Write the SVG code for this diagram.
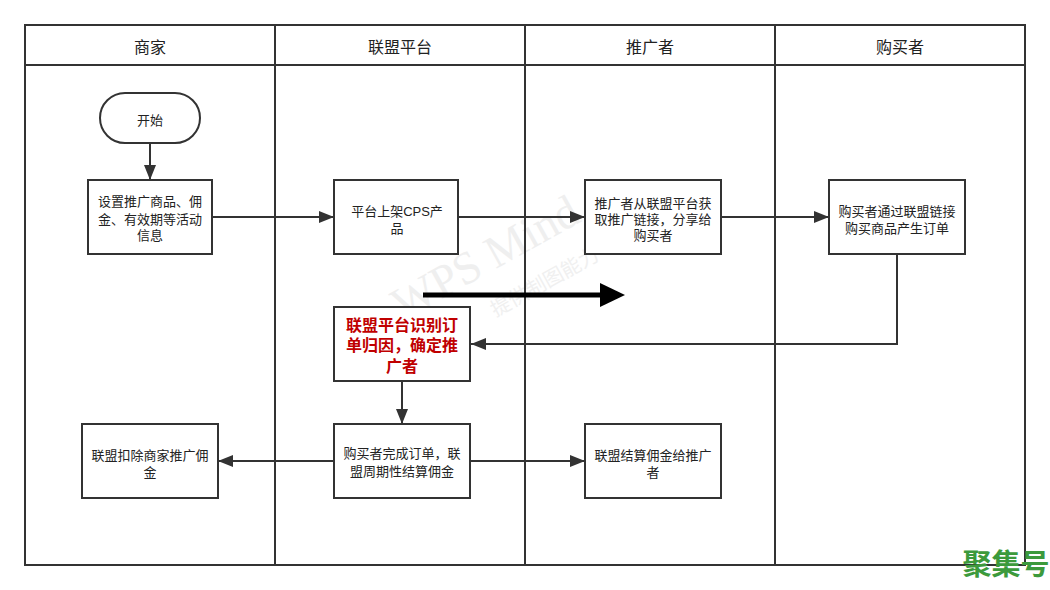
<svg xmlns="http://www.w3.org/2000/svg" width="1050" height="590" viewBox="0 0 1050 590">
<style>
text{font-family:"Liberation Sans","Noto Sans CJK SC",sans-serif;fill:#222;text-anchor:middle}
.h{font-size:16px}.t{font-size:13px}
.r{font-size:16px;fill:#c00000;font-weight:bold}
.b{fill:#fff;stroke:#333;stroke-width:2}
.l{fill:none;stroke:#333;stroke-width:2}
.c{fill:none;stroke:#333;stroke-width:2;marker-end:url(#a)}
</style>
<defs><marker id="a" markerUnits="userSpaceOnUse" markerWidth="16" markerHeight="12" refX="15" refY="6" orient="auto"><path d="M0 0L15 6L0 12z" fill="#333"/></marker></defs>
<rect width="1050" height="590" fill="#fff"/>
<g id="watermark" transform="rotate(-29 490 270)"><text x="492" y="272" style="font-family:'Liberation Serif',serif;font-size:46px;fill:#efefef">WPS Mind</text><text x="532" y="314" style="font-size:20px;fill:#f0f0f0">提供制图能力</text></g>
<g id="lanes"><rect class="l" x="25" y="25" width="1000" height="540"/><path class="l" d="M25 65H1025M275 25V565M525 25V565M775 25V565"/>
<text class="h" x="150" y="53">商家</text><text class="h" x="400" y="53">联盟平台</text><text class="h" x="650" y="53">推广者</text><text class="h" x="900" y="53">购买者</text></g>
<g id="connectors">
<path class="c" d="M150 143V180"/><path class="c" d="M212 217H334"/><path class="c" d="M458 217H585"/><path class="c" d="M721 217H829"/><path class="c" d="M897 254V344H471"/><path class="c" d="M402 381V424"/><path class="c" d="M334 461H218"/><path class="c" d="M471 461H585"/>
<path d="M423 295H602" fill="none" stroke="#000" stroke-width="5"/><path d="M600 283L625 295L600 307z" fill="#000"/>
</g>
<g id="start"><rect class="b" x="100" y="93" width="100" height="50" rx="25"/><text class="t" x="150" y="125">开始</text></g>
<g id="n1"><rect class="b" x="88" y="180" width="124" height="74"/><text class="t" x="150" y="206">设置推广商品、佣</text><text class="t" x="150" y="224">金、有效期等活动</text><text class="t" x="150" y="240">信息</text></g>
<g id="n2"><rect class="b" x="334" y="180" width="124" height="74"/><text class="t" x="397" y="216">平台上架CPS产</text><text class="t" x="397" y="233">品</text></g>
<g id="n3"><rect class="b" x="585" y="180" width="136" height="74"/><text class="t" x="653" y="208">推广者从联盟平台获</text><text class="t" x="653" y="224">取推广链接，分享给</text><text class="t" x="653" y="240">购买者</text></g>
<g id="n4"><rect class="b" x="829" y="180" width="136" height="74"/><text class="t" x="897" y="216">购买者通过联盟链接</text><text class="t" x="897" y="233">购买商品产生订单</text></g>
<g id="n5"><rect class="b" x="334" y="307" width="136" height="74"/><text class="r" x="402" y="331">联盟平台识别订</text><text class="r" x="402" y="351">单归因，确定推</text><text class="r" x="402" y="372">广者</text></g>
<g id="n6"><rect class="b" x="334" y="424" width="136" height="74"/><text class="t" x="402" y="458">购买者完成订单，联</text><text class="t" x="402" y="476">盟周期性结算佣金</text></g>
<g id="n7"><rect class="b" x="82" y="424" width="136" height="74"/><text class="t" x="150" y="460">联盟扣除商家推广佣</text><text class="t" x="150" y="477">金</text></g>
<g id="n8"><rect class="b" x="585" y="424" width="136" height="74"/><text class="t" x="653" y="460">联盟结算佣金给推广</text><text class="t" x="653" y="477">者</text></g>
<text id="logo" x="1006" y="575" style="font-size:29px;font-weight:bold;fill:#3c9a3c">聚集号</text>
</svg>
